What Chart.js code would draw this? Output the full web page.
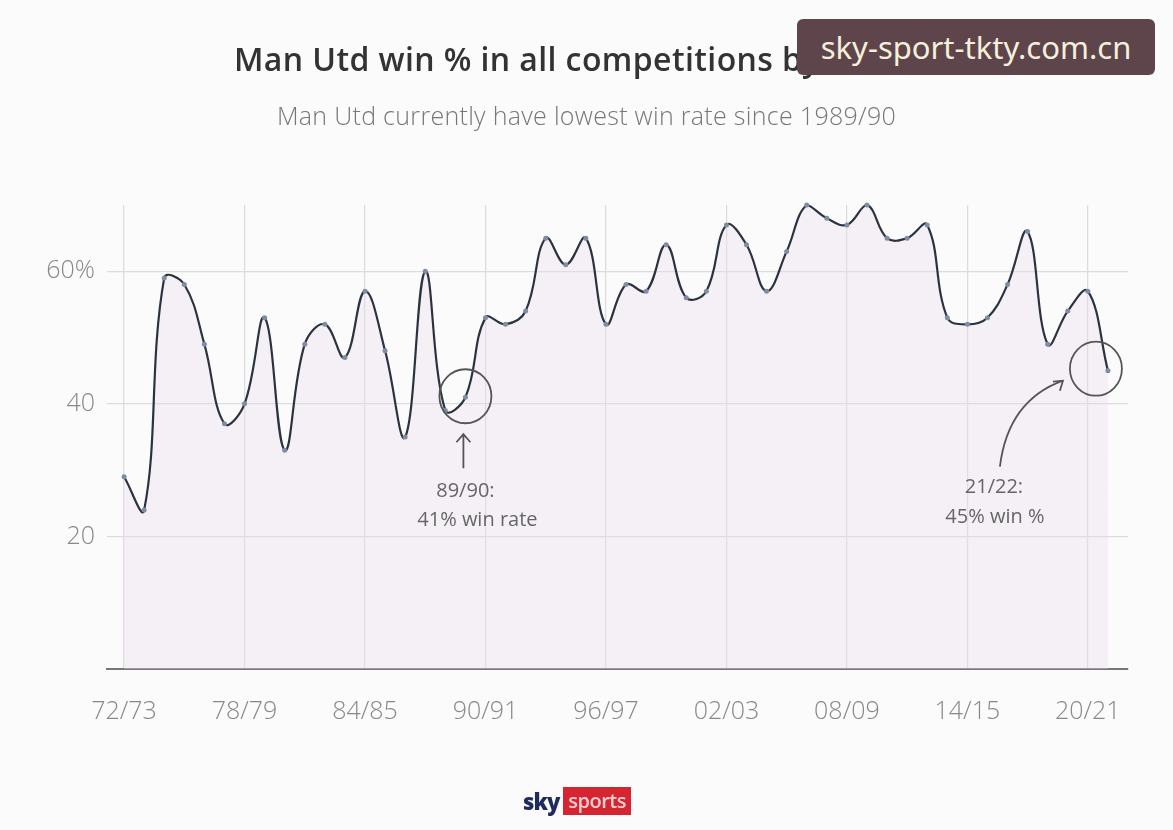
<!DOCTYPE html>
<html>
<head>
<meta charset="utf-8">
<script src="https://cdn.jsdelivr.net/npm/chart.js@4"></script>
<style>
  html, body { margin: 0; padding: 0; background: #fbfbfb; }
  body { width: 1173px; height: 830px; position: relative; overflow: hidden; font-family: "Open Sans", sans-serif; }
  #chart { position: absolute; left: 0; top: 0; }
  .title { position: absolute; left: 0; width: 1173px; top: 37px; text-align: center; font-size: 32px; font-weight: 600; color: #333; letter-spacing: 0.4px; }
  .subtitle { position: absolute; left: 0; width: 1173px; top: 98px; text-align: center; font-size: 25px; font-weight: 300; color: #777; letter-spacing: 0.3px; }
  .mark { position: absolute; left: 797px; top: 19px; width: 358px; height: 56px; background: #5e454b; border-radius: 6px;
          color: #f5f0dc; font-family: "Noto Sans", sans-serif; font-size: 31px; line-height: 56px; text-align: center; }
  .logo { position: absolute; left: 523px; top: 786px; height: 30px; display: flex; align-items: center; }
  .logo .sky { font-family: "Open Sans", sans-serif; font-weight: 800; font-size: 22px; color: #1f2b5c; letter-spacing: -1px; margin-right: 4px; }
  .logo .sports { background: #d42530; color: #f7d0d4; font-size: 20px; font-weight: 600; padding: 0 5px; height: 28px; line-height: 27px; letter-spacing: -0.5px; }
</style>
</head>
<body>
<canvas id="chart" width="1173" height="830"></canvas>
<div class="title">Man Utd win % in all competitions by season</div>
<div class="subtitle">Man Utd currently have lowest win rate since 1989/90</div>
<div class="mark">sky-sport-tkty.com.cn</div>
<div class="logo"><span class="sky">sky</span><span class="sports">sports</span></div>
<script>
// seasons 72/73 .. 21/22
var seasons = ['72/73','73/74','74/75','75/76','76/77','77/78','78/79','79/80','80/81','81/82',
               '82/83','83/84','84/85','85/86','86/87','87/88','88/89','89/90','90/91','91/92',
               '92/93','93/94','94/95','95/96','96/97','97/98','98/99','99/00','00/01','01/02',
               '02/03','03/04','04/05','05/06','06/07','07/08','08/09','09/10','10/11','11/12',
               '12/13','13/14','14/15','15/16','16/17','17/18','18/19','19/20','20/21','21/22'];
var winPct = [29, 24, 59, 58, 49, 37, 40, 53, 33, 49,
              52, 47, 57, 48, 35, 60, 39, 41, 53, 52,
              54, 65, 61, 65, 52, 58, 57, 64, 56, 57,
              67, 64, 57, 63, 70, 68, 67, 70, 65, 65,
              67, 53, 52, 53, 58, 66, 49, 54, 57, 45];
var xTickSeasons = ['72/73','78/79','84/85','90/91','96/97','02/03','08/09','14/15','20/21'];
var yTicks = [20, 40, 60];
var yTickLabels = ['20', '40', '60%'];

var points = winPct.map(function(v, i) { return { x: i, y: v }; });

// circles, arrows and notes
var notes = {
  id: 'notes',
  afterDatasetsDraw: function(chart) {
    var c = chart.ctx, xs = chart.scales.x, ys = chart.scales.y;
    var i1 = seasons.indexOf('89/90'), i2 = seasons.indexOf('21/22');
    var p1x = xs.getPixelForValue(i1), p1y = ys.getPixelForValue(winPct[i1]);
    var p2x = xs.getPixelForValue(i2), p2y = ys.getPixelForValue(winPct[i2]);
    c.save();
    c.strokeStyle = '#555';
    c.lineWidth = 1.8;
    // circle 1
    c.beginPath();
    c.ellipse(p1x, p1y - 1, 26, 27, 0, 0, Math.PI * 2);
    c.stroke();
    // arrow 1
    c.beginPath();
    c.moveTo(p1x - 2, p1y + 71);
    c.lineTo(p1x - 2, p1y + 37);
    c.moveTo(p1x - 9, p1y + 45);
    c.lineTo(p1x - 2, p1y + 37);
    c.lineTo(p1x + 5, p1y + 45);
    c.stroke();
    // circle 2
    c.beginPath();
    c.ellipse(p2x - 12, p2y - 2, 26, 27, 0, 0, Math.PI * 2);
    c.stroke();
    // arrow 2
    var sx = p2x - 108, sy = p2y + 96, ex = p2x - 45, ey = p2y + 10;
    c.beginPath();
    c.moveTo(sx, sy);
    c.quadraticCurveTo(sx + 8, ey + 20, ex, ey);
    c.stroke();
    c.beginPath();
    c.moveTo(ex - 10, ey + 1);
    c.lineTo(ex, ey);
    c.lineTo(ex - 3, ey + 10);
    c.stroke();
    // texts
    c.fillStyle = '#666';
    c.font = '20px "Open Sans"';
    c.textAlign = 'center';
    c.textBaseline = 'middle';
    c.fillText(seasons[i1] + ':', p1x, p1y + 94);
    c.fillText(winPct[i1] + '% win rate', p1x + 12, p1y + 123);
    c.fillText(seasons[i2] + ':', p2x - 114, p2y + 117);
    c.fillText(winPct[i2] + '% win %', p2x - 113, p2y + 147);
    c.restore();
  }
};

new Chart(document.getElementById('chart'), {
  type: 'line',
  data: {
    datasets: [{
      data: points,
      borderColor: '#2b3340',
      borderWidth: 2.2,
      tension: 0.4,
      pointRadius: 2.5,
      pointBackgroundColor: '#7f8ca3',
      pointBorderWidth: 0,
      fill: 'origin',
      backgroundColor: 'rgba(236, 222, 238, 0.35)',
      clip: false
    }]
  },
  options: {
    responsive: false,
    animation: false,
    layout: { padding: { top: 205, right: 45, left: 0, bottom: 0 } },
    plugins: { legend: { display: false }, tooltip: { enabled: false } },
    scales: {
      x: {
        type: 'linear',
        min: -0.85,
        max: 50,
        afterBuildTicks: function(s) {
          s.ticks = xTickSeasons.map(function(t) { return { value: seasons.indexOf(t) }; });
        },
        afterFit: function(s) { s.height = 161; },
        ticks: {
          callback: function(v) { return seasons[v]; },
          color: '#888',
          font: { family: 'Open Sans', size: 25, weight: 300 },
          padding: 28,
          maxRotation: 0,
          autoSkip: false
        },
        grid: { color: '#dcdcdc', lineWidth: 1.2, drawTicks: false },
        border: { color: '#777', width: 2 }
      },
      y: {
        min: 0,
        max: 70,
        afterBuildTicks: function(s) {
          s.ticks = yTicks.map(function(t) { return { value: t }; });
        },
        afterFit: function(s) { s.width = 107; },
        ticks: {
          callback: function(v) { return yTickLabels[yTicks.indexOf(v)]; },
          color: '#888',
          font: { family: 'Open Sans', size: 25, weight: 300 },
          padding: 12
        },
        grid: { color: '#dcdcdc', lineWidth: 1.2, drawTicks: false },
        border: { display: false }
      }
    }
  },
  plugins: [notes]
});
</script>
</body>
</html>
